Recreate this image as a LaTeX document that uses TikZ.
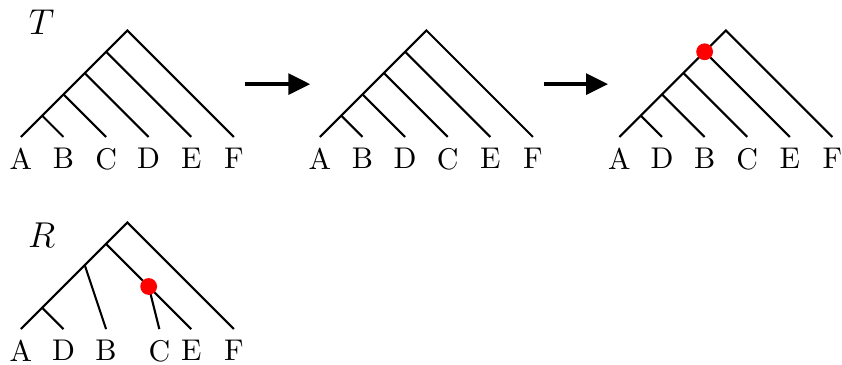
\documentclass[tikz,border=0pt]{standalone}
\usepackage{tikz}
\usetikzlibrary{positioning,arrows.meta}

\begin{document}
\begin{tikzpicture}[x=0.5cm,y=0.5cm,
    branch/.style={line width=0.7pt},
    leaf/.style={anchor=north, inner sep=3.6pt},
    treename/.style={font=\large},
    move/.style={line width=1.1pt, -{Triangle[length=7.3pt,width=7pt]}},
    hitdot/.style={circle, fill=red, inner sep=0pt, minimum size=5.6pt}]

    \useasboundingbox (0,0) rectangle (19.765,8.545);

    % Tree T
    \node[treename] (tname) at (0.98,8.02) {$T$};
    \begin{scope}[shift={(0.49,5.33)}]
        \foreach \n [count=\i from 0] in {A,B,C,D,E,F}
            \node[leaf] (t\n) at (\i,0) {\n};
        \coordinate (t1) at (0.5,0.5);
        \coordinate (t2) at (1,1);
        \coordinate (t3) at (1.5,1.5);
        \coordinate (t4) at (2,2);
        \coordinate (troot) at (2.5,2.5);
        \draw[branch] (tA.north) -- (t1) -- (t2) -- (t3) -- (t4) -- (troot) -- (tF.north);
        \draw[branch] (t1) -- (tB.north);
        \draw[branch] (t2) -- (tC.north);
        \draw[branch] (t3) -- (tD.north);
        \draw[branch] (t4) -- (tE.north);
    \end{scope}

    % Tree after first move
    \begin{scope}[shift={(7.51,5.33)}]
        \foreach \n [count=\i from 0] in {A,B,D,C,E,F}
            \node[leaf] (s\n) at (\i,0) {\n};
        \coordinate (s1) at (0.5,0.5);
        \coordinate (s2) at (1,1);
        \coordinate (s3) at (1.5,1.5);
        \coordinate (s4) at (2,2);
        \coordinate (sroot) at (2.5,2.5);
        \draw[branch] (sA.north) -- (s1) -- (s2) -- (s3) -- (s4) -- (sroot) -- (sF.north);
        \draw[branch] (s1) -- (sB.north);
        \draw[branch] (s2) -- (sD.north);
        \draw[branch] (s3) -- (sC.north);
        \draw[branch] (s4) -- (sE.north);
    \end{scope}

    % Tree after second move
    \begin{scope}[shift={(14.54,5.33)}]
        \foreach \n [count=\i from 0] in {A,D,B,C,E,F}
            \node[leaf] (u\n) at (\i,0) {\n};
        \coordinate (u1) at (0.5,0.5);
        \coordinate (u2) at (1,1);
        \coordinate (u3) at (1.5,1.5);
        \coordinate (u4) at (2,2);
        \coordinate (uroot) at (2.5,2.5);
        \draw[branch] (uA.north) -- (u1) -- (u2) -- (u3) -- (u4) -- (uroot) -- (uF.north);
        \draw[branch] (u1) -- (uD.north);
        \draw[branch] (u2) -- (uB.north);
        \draw[branch] (u3) -- (uC.north);
        \draw[branch] (u4) -- (uE.north);
        \node[hitdot] (udot) at (u4) {};
    \end{scope}

    % Moves
    \coordinate (m1s) at (5.75,6.57);
    \coordinate (m1e) at (7.28,6.57);
    \coordinate (m2s) at (12.77,6.57);
    \coordinate (m2e) at (14.27,6.57);
    \draw[move] (m1s) -- (m1e);
    \draw[move] (m2s) -- (m2e);

    % Tree R
    \node[treename] (rname) at (0.98,3.03) {$R$};
    \begin{scope}[shift={(0.49,0.82)}]
        \node[leaf] (rA) at (0,0) {A};
        \node[leaf] (rD) at (1,0) {D};
        \node[leaf] (rB) at (2,0) {B};
        \node[leaf] (rC) at (3.25,0) {C};
        \node[leaf] (rE) at (4,0) {E};
        \node[leaf] (rF) at (5,0) {F};
        \coordinate (r1) at (0.5,0.5);
        \coordinate (r2) at (1.5,1.5);
        \coordinate (r3) at (2,2);
        \coordinate (rroot) at (2.5,2.5);
        \coordinate (r4) at (3,1);
        \draw[branch] (rA.north) -- (r1) -- (r2) -- (r3) -- (rroot) -- (rF.north);
        \draw[branch] (r1) -- (rD.north);
        \draw[branch] (r2) -- (rB.north);
        \draw[branch] (r3) -- (r4) -- (rE.north);
        \draw[branch] (r4) -- (rC.north);
        \node[hitdot] (rdot) at (r4) {};
    \end{scope}

\end{tikzpicture}
\end{document}
